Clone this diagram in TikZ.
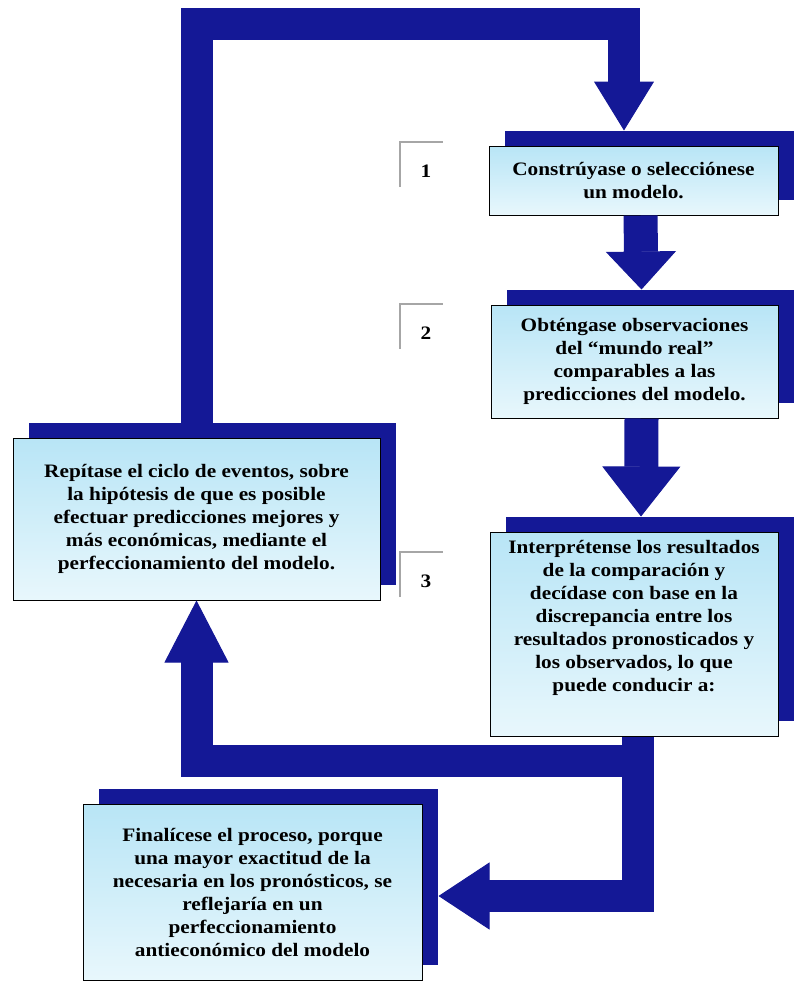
\documentclass[tikz,border=0pt]{standalone}
\usepackage{fontspec}
\setmainfont{Liberation Serif}[FakeStretch=1.12]
\usetikzlibrary{arrows.meta,shadows}

\definecolor{flowblue}{RGB}{20,24,150}
\definecolor{boxtop}{RGB}{184,229,246}
\definecolor{boxbot}{RGB}{232,247,252}

\begin{document}
\begin{tikzpicture}[x=1pt,y=-1pt,
	stage/.style={draw=black,line width=1pt,top color=boxtop,bottom color=boxbot,
		general shadow={fill=flowblue,shadow xshift=16pt,shadow yshift=15pt},
		align=center,inner sep=0pt,font=\bfseries\fontsize{19}{23}\selectfont},
	flow/.style={draw=flowblue,line width=32pt},
	flowtip/.style 2 args={-{Triangle[length=#1,width=#2,line width=1pt]}},
	stagenum/.style={font=\bfseries\fontsize{19}{22}\selectfont},
	bracket/.style={draw=gray!70,line width=1.2pt}]

\useasboundingbox (0,0) rectangle (793,985);

% boxes
\node[stage,minimum width=289pt,minimum height=69pt] (model) at (633.5,180.5)
	{Constrúyase o selecciónese\\un modelo.};
\node[stage,minimum width=287pt,minimum height=113pt] (observe) at (634.5,361.5)
	{Obténgase observaciones\\del ``mundo real''\\comparables a las\\predicciones del modelo.};
\node[stage,minimum width=288pt,minimum height=204pt,text depth=36pt] (interpret) at (634,634)
	{Interprétense los resultados\\de la comparación y\\decídase con base en la\\discrepancia entre los\\resultados pronosticados y\\los observados, lo que\\puede conducir a:};
\node[stage,minimum width=367pt,minimum height=162pt] (repeat) at (196.5,519)
	{Repítase el ciclo de eventos, sobre\\la hipótesis de que es posible\\efectuar predicciones mejores y\\más económicas, mediante el\\perfeccionamiento del modelo.};
\node[stage,minimum width=339pt,minimum height=176pt] (finish) at (252.5,892)
	{Finalícese el proceso, porque\\una mayor exactitud de la\\necesaria en los pronósticos, se\\reflejaría en un\\perfeccionamiento\\antieconómico del modelo};

% step numbers
\foreach \n/\y in {1/171,2/333,3/581}{
	\node[stagenum] (n\n) at (426,\y) {\n};
	\draw[bracket] ([shift={(-26pt,-16pt)}]n\n.center) |- ([shift={(17pt,29pt)}]n\n.center);
}

% flow arrows
\coordinate (loopR) at (624,24);
\coordinate (modeltop) at ([yshift=15pt]model.north);
\draw[flow,flowtip={49pt}{60pt}] (repeat.north) |- (loopR) -- (loopR |- modeltop);
\draw[flow,line width=34pt,flowtip={38pt}{70pt}] ([xshift=7pt]model.south) -- ([xshift=7pt,yshift=15pt]observe.north);
\draw[flow,line width=34pt,flowtip={50pt}{78pt}] ([xshift=7pt]observe.south) -- ([xshift=7pt,yshift=15pt]interpret.north);
\draw[flow,flowtip={62pt}{64pt}] ([xshift=4pt]interpret.south) |- ([yshift=-160pt]repeat.south) -- (repeat.south);
\draw[flow,flowtip={51pt}{67pt}] ([xshift=4pt]interpret.south) |- ([xshift=16pt,yshift=-4pt]finish.east);

\end{tikzpicture}
\end{document}
